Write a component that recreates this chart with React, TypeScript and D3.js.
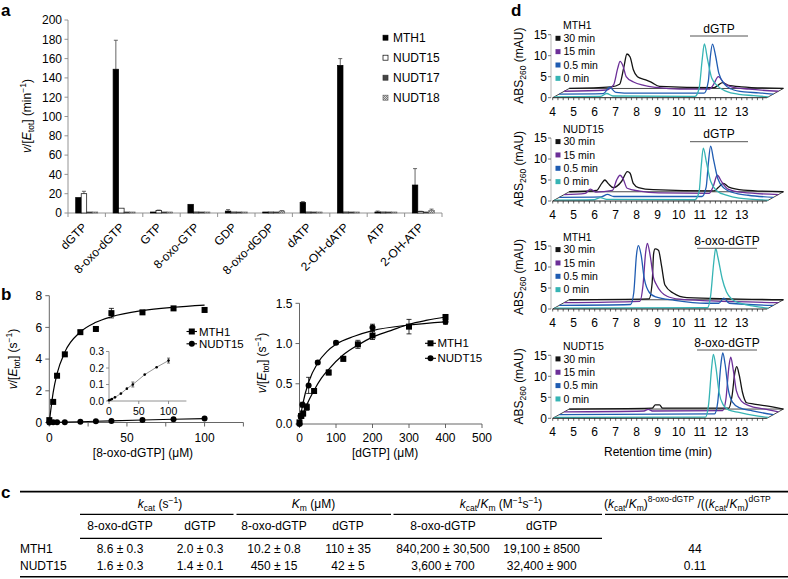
import React from "react";
import * as d3 from "d3";

const FONT = "'Liberation Sans', Arial, Helvetica, sans-serif";

// ---------------- Panel a data ----------------
const substrates = ["dGTP", "8-oxo-dGTP", "GTP", "8-oxo-GTP", "GDP", "8-oxo-dGDP", "dATP", "2-OH-dATP", "ATP", "2-OH-ATP"];
const enzymes = ["MTH1", "NUDT15", "NUDT17", "NUDT18"];
const rateMTH1 = [16, 149, 0.3, 9, 2, 0.3, 11, 153, 0.5, 29];
const errMTH1 = [0, 30, 0, 0, 1.5, 0, 0.8, 7, 1.5, 17];
const rateNUDT15 = [20, 5, 2.5, 0.3, 0.3, 0.3, 0.3, 0.5, 0.3, 1.5];
const errNUDT15 = [2.5, 0, 0.5, 0, 0, 0, 0, 0, 0, 0.3];
const rateNUDT17 = [0.3, 0.5, 0.3, 0.3, 0.7, 0.3, 0.3, 0.3, 0.3, 0.3];
const errNUDT17 = [0, 0, 0, 0, 0, 0, 0, 0, 0, 0];
const rateNUDT18 = [0.3, 0.5, 0.3, 0.7, 0.3, 2, 0.3, 0.3, 0.3, 2.5];
const errNUDT18 = [0, 0, 0, 0, 0, 0.5, 0, 0, 0, 1.5];
const aTicks = [0, 20, 40, 60, 80, 100, 120, 140, 160, 180, 200];

// ---------------- Panel b data ----------------
const oxoConc = [0, 2.5, 5, 10, 20, 30, 40, 60, 80, 100];
const mth1Oxo = [0.15, 1.3, 2.95, 4.3, 5.7, 5.9, 6.9, 6.95, 7.2, 7.1];
const mth1OxoErr = [0, 0.05, 0.1, 0.1, 0.1, 0.1, 0.3, 0.1, 0.1, 0.1];
const nudt15Oxo = [0.005, 0.008, 0.012, 0.022, 0.045, 0.075, 0.1, 0.16, 0.205, 0.245];
const nudt15OxoErr = [0, 0, 0, 0, 0, 0, 0.015, 0, 0, 0.015];
const mth1OxoFitX = [0, 2.5, 5, 10, 20, 30, 40, 60, 80, 100];
const mth1OxoFitY = [0, 1.9, 3.08, 4.44, 5.71, 6.32, 6.67, 7.06, 7.27, 7.41];
const bLeftXTicks = [0, 25, 50, 75, 100, 125];
const bLeftXLabels = [0, 50, 100];
const bLeftYTicks = [0, 2, 4, 6, 8];
const insetYTicks = [0, 0.1, 0.2, 0.3];
const insetXTicks = [0, 50, 100];

const mth1DgtpConc = [0, 5, 10, 20, 40, 80, 120, 160, 200, 300, 400];
const mth1Dgtp = [0.02, 0.1, 0.13, 0.21, 0.41, 0.64, 0.81, 0.99, 1.1, 1.21, 1.33];
const mth1DgtpErr = [0, 0.02, 0.03, 0.04, 0.03, 0.03, 0.03, 0.05, 0.05, 0.09, 0.03];
const nudt15DgtpConc = [0, 3, 8, 25, 50, 100, 200, 400];
const nudt15Dgtp = [0, 0.1, 0.24, 0.48, 0.765, 1.01, 1.2, 1.27];
const nudt15DgtpErr = [0, 0.03, 0.03, 0.1, 0.02, 0.02, 0.04, 0.03];
const mth1DgtpFitX = [0, 10, 20, 40, 60, 80, 120, 160, 200, 250, 300, 350, 400];
const mth1DgtpFitY = [0, 0.13, 0.24, 0.42, 0.57, 0.68, 0.86, 0.98, 1.08, 1.16, 1.24, 1.29, 1.33];
const nudt15DgtpFitX = [0, 5, 10, 25, 50, 75, 100, 150, 200, 300, 400];
const nudt15DgtpFitY = [0, 0.15, 0.27, 0.52, 0.76, 0.9, 0.99, 1.09, 1.16, 1.23, 1.27];
const bRightXTicks = [0, 100, 200, 300, 400, 500];
const bRightYTicks = [0, 0.5, 1.0, 1.5];

// ---------------- Panel c data ----------------
const tableEnzymes = ["MTH1", "NUDT15"];
const kcatOxo = ["8.6 ± 0.3", "1.6 ± 0.3"];
const kcatDgtp = ["2.0 ± 0.3", "1.4 ± 0.1"];
const kmOxo = ["10.2 ± 0.8", "450 ± 15"];
const kmDgtp = ["110 ± 35", "42 ± 5"];
const effOxo = ["840,200 ± 30,500", "3,600 ± 700"];
const effDgtp = ["19,100 ± 8500", "32,400 ± 900"];
const ratioCol = ["44", "0.11"];

// ---------------- Panel d data ----------------
const timePoints = ["0 min", "0.5 min", "15 min", "30 min"]; // front to back
const dTimeTicks = [4, 5, 6, 7, 8, 9, 10, 11, 12, 13];
const dYTicks = [0, 5, 10, 15];

const mth1Dgtp_0 = [[4, 0], [6.2, 0.1], [6.5, 0.8], [6.8, 0.2], [10.7, 0.1], [10.9, 2], [11.05, 9], [11.15, 12.6], [11.3, 9], [11.5, 4.5], [11.8, 2.5], [12.2, 1.3], [12.8, 0.6], [13.5, 0.3], [14.2, 0]];
const mth1Dgtp_05 = [[4, 0], [6.1, 0.1], [6.4, 1.6], [6.7, 0.4], [7.5, 0.2], [10.9, 0.2], [11.1, 3], [11.2, 9], [11.3, 11.9], [11.45, 9], [11.6, 5], [11.9, 2.2], [12.2, 1.2], [12.8, 0.5], [13.5, 0.3], [14.2, 0]];
const mth1Dgtp_15 = [[4, 0], [6.0, 0.3], [6.35, 1.5], [6.55, 5.5], [6.66, 7.1], [6.8, 6], [6.95, 3.5], [7.3, 2.2], [7.8, 1.4], [8.4, 0.9], [9.5, 0.5], [10.9, 0.5], [11.1, 1.5], [11.34, 3.5], [11.6, 2], [12.0, 1], [12.8, 0.5], [14.2, 0]];
const mth1Dgtp_30 = [[4, 0], [6.0, 0.4], [6.4, 1], [6.6, 5], [6.75, 8.2], [6.9, 7.5], [7.05, 4.5], [7.25, 2.8], [7.6, 2.1], [7.9, 1.5], [8.3, 0.5], [10.9, 0.2], [11.1, 0.8], [11.3, 1.4], [11.55, 0.8], [12.2, 0.4], [14.2, 0]];

const nudt15Dgtp_0 = [[4, 0], [5.9, 0.1], [6.2, 0.6], [6.5, 0.2], [10.7, 0.1], [10.9, 2], [11.0, 8], [11.1, 12.4], [11.25, 9], [11.45, 4.5], [11.75, 2.2], [12.2, 1.2], [12.8, 0.5], [14.2, 0]];
const nudt15Dgtp_05 = [[4, 0], [6.0, 0.1], [6.3, 0.7], [6.6, 0.2], [10.8, 0.2], [11.0, 2.5], [11.1, 8], [11.21, 12.2], [11.35, 9], [11.55, 4.5], [11.85, 2.2], [12.3, 1.1], [13, 0.5], [14.2, 0]];
const nudt15Dgtp_15 = [[4, 0], [5.0, 0.3], [5.25, 1.3], [5.5, 0.6], [6.3, 1], [6.5, 3.5], [6.66, 4.6], [6.8, 3.8], [7.0, 1.5], [7.6, 0.8], [8.5, 0.4], [10.9, 0.3], [11.1, 2], [11.29, 4.6], [11.5, 3], [11.8, 1.3], [12.5, 0.5], [14.2, 0]];
const nudt15Dgtp_30 = [[4, 0], [5.3, 0.3], [5.55, 2], [5.7, 2.8], [5.85, 2], [6.1, 1], [6.5, 2.5], [6.77, 4.8], [6.9, 4.4], [7.05, 2], [7.3, 1], [8.0, 0.5], [10.9, 0.2], [11.1, 1], [11.34, 2], [11.6, 1.1], [12.3, 0.4], [14.2, 0]];

const mth1Oxo_0 = [[4, 0], [11.3, 0.1], [11.45, 3], [11.6, 11], [11.69, 14.2], [11.8, 12], [12.0, 7], [12.2, 3.9], [12.5, 2], [12.85, 1.2], [13.5, 0.5], [14.2, 0]];
const mth1Oxo_05 = [[4, 0], [7.4, 0.2], [7.55, 3], [7.68, 12], [7.77, 14.2], [7.9, 12], [8.05, 6.4], [8.3, 3], [8.6, 2], [9.5, 1.2], [11.0, 0.5], [11.6, 0.5], [11.84, 1.7], [12.1, 0.5], [14.2, 0]];
const mth1Oxo_15 = [[4, 0], [7.6, 0.3], [7.75, 4], [7.88, 12], [7.96, 14.1], [8.1, 11], [8.25, 6], [8.4, 4.2], [8.9, 1.5], [9.5, 0.8], [11, 0.4], [14.2, 0]];
const mth1Oxo_30 = [[4, 0], [7.8, 0.2], [7.95, 4], [8.02, 11], [8.09, 12.1], [8.25, 11.8], [8.4, 8], [8.56, 3.5], [8.95, 1.6], [9.6, 0.5], [14.2, 0]];

const nudt15Oxo_0 = [[4, 0], [11.2, 0.1], [11.35, 3], [11.5, 12], [11.58, 15], [11.7, 12], [11.85, 6], [12.05, 3], [12.3, 1.8], [12.8, 1.2], [13.5, 0.5], [14.2, 0]];
const nudt15Oxo_05 = [[4, 0], [11.4, 0.2], [11.55, 3], [11.7, 12], [11.79, 14.7], [11.9, 12], [12.05, 6], [12.25, 3], [12.6, 1.6], [13.2, 0.9], [14.2, 0]];
const nudt15Oxo_15 = [[4, 0], [7.8, 0.2], [8.0, 0.6], [8.2, 0.2], [11.55, 0.3], [11.7, 3], [11.85, 11], [11.93, 13], [12.05, 10], [12.2, 5], [12.45, 2.5], [12.8, 1.5], [13.5, 0.7], [14.2, 0]];
const nudt15Oxo_30 = [[4, 0], [7.95, 0.2], [8.1, 1.0], [8.3, 1.0], [8.45, 0.2], [11.6, 0.2], [11.75, 3], [11.9, 9], [11.98, 10.1], [12.1, 8], [12.25, 4], [12.45, 1.5], [12.8, 1.2], [13.3, 0.8], [14.2, 0]];

const dSubpanels = [
  { enzyme: "MTH1", substrate: "dGTP", traces: [mth1Dgtp_0, mth1Dgtp_05, mth1Dgtp_15, mth1Dgtp_30] },
  { enzyme: "NUDT15", substrate: "dGTP", traces: [nudt15Dgtp_0, nudt15Dgtp_05, nudt15Dgtp_15, nudt15Dgtp_30] },
  { enzyme: "MTH1", substrate: "8-oxo-dGTP", traces: [mth1Oxo_0, mth1Oxo_05, mth1Oxo_15, mth1Oxo_30] },
  { enzyme: "NUDT15", substrate: "8-oxo-dGTP", traces: [nudt15Oxo_0, nudt15Oxo_05, nudt15Oxo_15, nudt15Oxo_30] },
];

// ---------------- layout / style ----------------
const dLayout = [
  { base: 97.7, subY: 32.5, lineY: 36, lineX: [690, 748] },
  { base: 201, subY: 137.5, lineY: 141.7, lineX: [690, 748] },
  { base: 309, subY: 244.5, lineY: 248.3, lineX: [697, 757] },
  { base: 418.3, subY: 346.5, lineY: 350, lineX: [697, 757] },
];
const dColors = ["#36b4b4", "#1f5cb2", "#6c2f98", "#141414"];
const dLevels = [0.3, 1.3, 2.3, 3.3];
const aColors = [
  { fill: "#000", stroke: "#000" },
  { fill: "#fff", stroke: "#000" },
  { fill: "#454545", stroke: "#333" },
  { fill: "url(#chk)", stroke: "#666" },
];

const VLabel = ({ x, y, unit }: { x: number; y: number; unit: string }) => (
  <text transform={`translate(${x},${y}) rotate(-90)`} textAnchor="middle" fontSize={12}>
    <tspan fontStyle="italic">v</tspan>/[<tspan fontStyle="italic">E</tspan>
    <tspan fontSize={8.5} dy={3}>tot</tspan>
    <tspan dy={-3}>] ({unit}</tspan>
    <tspan fontSize={8.5} dy={-5}>−1</tspan>
    <tspan dy={5}>)</tspan>
  </text>
);

export default function App() {
  // ---------- panel a ----------
  const aX = d3.scaleBand<string>().domain(substrates).range([68, 442]);
  const aInner = d3.scaleBand<string>().domain(enzymes).range([0, aX.bandwidth()]).paddingOuter(1.4);
  const aY = d3.scaleLinear().domain([0, 200]).range([213, 20]);
  const aVals = [rateMTH1, rateNUDT15, rateNUDT17, rateNUDT18];
  const aErrs = [errMTH1, errNUDT15, errNUDT17, errNUDT18];

  // ---------- panel b ----------
  const blX = d3.scaleLinear().domain([0, 125]).range([49.3, 243.4]);
  const blY = d3.scaleLinear().domain([0, 8]).range([422.5, 295.7]);
  const iX = d3.scaleLinear().domain([0, 130]).range([109, 186.4]);
  const iY = d3.scaleLinear().domain([0, 0.3]).range([401, 351.5]);
  const brX = d3.scaleLinear().domain([0, 500]).range([299.5, 482]);
  const brY = d3.scaleLinear().domain([0, 1.5]).range([424, 303.3]);

  const lineXY = (sx: any, sy: any, curve: any) =>
    d3.line<number[]>().x((d) => sx(d[0])).y((d) => sy(d[1])).curve(curve);
  const zip = (a: number[], b: number[]) => a.map((v, i) => [v, b[i]]);

  const errBar = (cx: number, v: number, e: number, sy: any, half: number) => (
    <g stroke="#000" strokeWidth={0.8}>
      <line x1={cx} x2={cx} y1={sy(v - e)} y2={sy(v + e)} />
      <line x1={cx - half} x2={cx + half} y1={sy(v + e)} y2={sy(v + e)} />
      <line x1={cx - half} x2={cx + half} y1={sy(v - e)} y2={sy(v - e)} />
    </g>
  );

  const squares = (xs: number[], ys: number[], errs: number[], sx: any, sy: any, size: number, key: string) =>
    xs.map((c, i) => {
      const cx = sx(c), cy = sy(ys[i]);
      return (
        <g key={key + i}>
          {errs[i] > 0 && errBar(cx, ys[i], errs[i], sy, 2.5)}
          <rect x={cx - size / 2} y={cy - size / 2} width={size} height={size} fill="#000" />
        </g>
      );
    });
  const circles = (xs: number[], ys: number[], errs: number[], sx: any, sy: any, r: number, key: string) =>
    xs.map((c, i) => {
      const cx = sx(c), cy = sy(ys[i]);
      return (
        <g key={key + i}>
          {errs[i] > 0 && errBar(cx, ys[i], errs[i], sy, 2.5)}
          <circle cx={cx} cy={cy} r={r} fill="#000" />
        </g>
      );
    });

  // ---------- panel d ----------
  const dX = d3.scaleLinear().domain([4, 14.2]).range([552.7, 766.9]);
  const dK = 4.2;
  const minorTicks = d3.range(4, 14.01, 0.25);

  // ---------- panel c ----------
  const colCenters = [120, 200, 274, 348, 443, 541.7, 695];
  const tableCols = [kcatOxo, kcatDgtp, kmOxo, kmDgtp, effOxo, effDgtp, ratioCol];
  const subHeads = ["8-oxo-dGTP", "dGTP", "8-oxo-dGTP", "dGTP", "8-oxo-dGTP", "dGTP"];

  return (
    <svg width={788} height={579} style={{ position: "absolute", left: 0, top: 0, background: "#fff" }} fontFamily={FONT}>
      <defs>
        <pattern id="chk" width={2} height={2} patternUnits="userSpaceOnUse">
          <rect width={2} height={2} fill="#d8d8d8" />
          <rect width={1} height={1} fill="#7a7a7a" />
          <rect x={1} y={1} width={1} height={1} fill="#7a7a7a" />
        </pattern>
      </defs>
      <rect width={788} height={579} fill="#fff" />

      {/* ================= Panel a ================= */}
      <text x={1} y={16} fontSize={17} fontWeight="bold">a</text>
      <g>
        <line x1={68} x2={68} y1={aY(200)} y2={aY(0)} stroke="#888" strokeWidth={0.9} />
        {aTicks.map((t) => (
          <g key={"at" + t}>
            <line x1={64.5} x2={68} y1={aY(t)} y2={aY(t)} stroke="#888" strokeWidth={0.9} />
            <text x={62} y={aY(t) + 4.3} fontSize={12} textAnchor="end">{t}</text>
          </g>
        ))}
        <line x1={68} x2={442} y1={aY(0)} y2={aY(0)} stroke="#888" strokeWidth={0.9} />
        {d3.range(0, substrates.length + 1).map((i) => {
          const x = 68 + i * aX.step();
          return <line key={"ab" + i} x1={x} x2={x} y1={aY(0)} y2={aY(0) + 4} stroke="#888" strokeWidth={0.9} />;
        })}
        {substrates.map((s, si) =>
          enzymes.map((e, ei) => {
            const v = aVals[ei][si];
            const err = aErrs[ei][si];
            const x = (aX(s) as number) + (aInner(e) as number);
            const w = aInner.bandwidth();
            const h = Math.max(aY(0) - aY(v), 1);
            const cx = x + w / 2;
            return (
              <g key={s + e}>
                {err > 0 && (
                  <g stroke="#555" strokeWidth={0.9}>
                    <line x1={cx} x2={cx} y1={aY(v)} y2={aY(v + err)} />
                    <line x1={cx - 2} x2={cx + 2} y1={aY(v + err)} y2={aY(v + err)} />
                  </g>
                )}
                <rect x={x} y={aY(0) - h} width={w} height={h} fill={aColors[ei].fill} stroke={aColors[ei].stroke} strokeWidth={0.7} />
              </g>
            );
          })
        )}
        {substrates.map((s) => {
          const cx = (aX(s) as number) + aX.bandwidth() / 2;
          return (
            <text key={"al" + s} transform={`translate(${cx + 1},${228}) rotate(-45)`} textAnchor="end" fontSize={12}>
              {s}
            </text>
          );
        })}
        <VLabel x={31} y={116} unit="min" />
        {enzymes.map((e, i) => (
          <g key={"leg" + e}>
            <rect x={383} y={35.2 + 20 * i} width={5} height={5} fill={aColors[i].fill} stroke={aColors[i].stroke} strokeWidth={0.7} />
            <text x={393} y={42 + 20 * i} fontSize={12}>{e}</text>
          </g>
        ))}
      </g>

      {/* ================= Panel b ================= */}
      <text x={1} y={300} fontSize={17} fontWeight="bold">b</text>
      {/* left plot */}
      <g>
        <line x1={blX(0)} x2={blX(0)} y1={blY(8)} y2={blY(0)} stroke="#555" strokeWidth={0.9} />
        <line x1={blX(0)} x2={blX(125)} y1={blY(0)} y2={blY(0)} stroke="#555" strokeWidth={0.9} />
        {bLeftYTicks.map((t) => (
          <g key={"bly" + t}>
            <line x1={blX(0) - 4} x2={blX(0)} y1={blY(t)} y2={blY(t)} stroke="#555" strokeWidth={0.9} />
            <text x={blX(0) - 7} y={blY(t) + 4.3} fontSize={12} textAnchor="end">{t}</text>
          </g>
        ))}
        {bLeftXTicks.map((t) => (
          <line key={"blx" + t} x1={blX(t)} x2={blX(t)} y1={blY(0)} y2={blY(0) + 4} stroke="#555" strokeWidth={0.9} />
        ))}
        {bLeftXLabels.map((t) => (
          <text key={"blxl" + t} x={blX(t)} y={442} fontSize={12} textAnchor="middle">{t}</text>
        ))}
        <text x={143} y={457} fontSize={12} textAnchor="middle">[8-oxo-dGTP] (μM)</text>
        <VLabel x={17} y={359} unit="s" />

        {/* inset */}
        <line x1={iX(0)} x2={iX(0)} y1={iY(0.3)} y2={iY(0)} stroke="#777" strokeWidth={0.8} />
        <line x1={iX(0)} x2={iX(130)} y1={iY(0)} y2={iY(0)} stroke="#777" strokeWidth={0.8} />
        {insetYTicks.map((t) => (
          <g key={"iy" + t}>
            <line x1={iX(0) - 3} x2={iX(0)} y1={iY(t)} y2={iY(t)} stroke="#777" strokeWidth={0.8} />
            <text x={iX(0) - 5} y={iY(t) + 3.7} fontSize={10.5} textAnchor="end">{t.toFixed(1)}</text>
          </g>
        ))}
        {insetXTicks.map((t) => (
          <g key={"ix" + t}>
            <line x1={iX(t)} x2={iX(t)} y1={iY(0)} y2={iY(0) + 3} stroke="#777" strokeWidth={0.8} />
            <text x={iX(t)} y={414.5} fontSize={10.5} textAnchor="middle">{t}</text>
          </g>
        ))}
        <path d={lineXY(iX, iY, d3.curveLinear)(zip(oxoConc, nudt15Oxo)) as string} fill="none" stroke="#888" strokeWidth={0.9} />
        {oxoConc.map((c, i) => (
          <g key={"ip" + i}>
            {nudt15OxoErr[i] > 0 && (
              <g stroke="#333" strokeWidth={0.7}>
                <line x1={iX(c)} x2={iX(c)} y1={iY(nudt15Oxo[i] - nudt15OxoErr[i])} y2={iY(nudt15Oxo[i] + nudt15OxoErr[i])} />
                <line x1={iX(c) - 1.5} x2={iX(c) + 1.5} y1={iY(nudt15Oxo[i] + nudt15OxoErr[i])} y2={iY(nudt15Oxo[i] + nudt15OxoErr[i])} />
                <line x1={iX(c) - 1.5} x2={iX(c) + 1.5} y1={iY(nudt15Oxo[i] - nudt15OxoErr[i])} y2={iY(nudt15Oxo[i] - nudt15OxoErr[i])} />
              </g>
            )}
            <circle cx={iX(c)} cy={iY(nudt15Oxo[i])} r={1.3} fill="#000" />
          </g>
        ))}

        {/* main data */}
        <path d={lineXY(blX, blY, d3.curveMonotoneX)(zip(mth1OxoFitX, mth1OxoFitY)) as string} fill="none" stroke="#000" strokeWidth={1.2} />
        <path d={lineXY(blX, blY, d3.curveLinear)(zip(oxoConc, nudt15Oxo)) as string} fill="none" stroke="#000" strokeWidth={1.1} />
        {squares(oxoConc, mth1Oxo, mth1OxoErr, blX, blY, 6, "msq")}
        {circles(oxoConc, nudt15Oxo, nudt15Oxo.map(() => 0), blX, blY, 3, "nci")}

        {/* legend */}
        <line x1={186.5} x2={197} y1={331.5} y2={331.5} stroke="#000" strokeWidth={1.1} />
        <rect x={188.8} y={328.5} width={6} height={6} fill="#000" />
        <text x={199} y={335.5} fontSize={11.5}>MTH1</text>
        <line x1={186.5} x2={197} y1={343.8} y2={343.8} stroke="#000" strokeWidth={1.1} />
        <circle cx={191.8} cy={343.8} r={3} fill="#000" />
        <text x={199} y={347.8} fontSize={11.5}>NUDT15</text>
      </g>

      {/* right plot */}
      <g>
        <line x1={brX(0)} x2={brX(0)} y1={brY(1.5)} y2={brY(0)} stroke="#555" strokeWidth={0.9} />
        <line x1={brX(0)} x2={brX(500)} y1={brY(0)} y2={brY(0)} stroke="#555" strokeWidth={0.9} />
        {bRightYTicks.map((t) => (
          <g key={"bry" + t}>
            <line x1={brX(0) - 4} x2={brX(0)} y1={brY(t)} y2={brY(t)} stroke="#555" strokeWidth={0.9} />
            <text x={brX(0) - 7} y={brY(t) + 4.3} fontSize={12} textAnchor="end">{t.toFixed(1)}</text>
          </g>
        ))}
        {bRightXTicks.map((t) => (
          <g key={"brx" + t}>
            <line x1={brX(t)} x2={brX(t)} y1={brY(0)} y2={brY(0) + 4} stroke="#555" strokeWidth={0.9} />
            <text x={brX(t)} y={442} fontSize={12} textAnchor="middle">{t}</text>
          </g>
        ))}
        <text x={385} y={457} fontSize={12} textAnchor="middle">[dGTP] (μM)</text>
        <VLabel x={266} y={363} unit="s" />

        <path d={lineXY(brX, brY, d3.curveMonotoneX)(zip(mth1DgtpFitX, mth1DgtpFitY)) as string} fill="none" stroke="#000" strokeWidth={1.2} />
        <path d={lineXY(brX, brY, d3.curveMonotoneX)(zip(nudt15DgtpFitX, nudt15DgtpFitY)) as string} fill="none" stroke="#000" strokeWidth={1.2} />
        {squares(mth1DgtpConc, mth1Dgtp, mth1DgtpErr, brX, brY, 6, "rsq")}
        {circles(nudt15DgtpConc, nudt15Dgtp, nudt15DgtpErr, brX, brY, 3, "rci")}

        <line x1={425} x2={436} y1={343.3} y2={343.3} stroke="#000" strokeWidth={1.1} />
        <rect x={427.5} y={340.3} width={6} height={6} fill="#000" />
        <text x={437.5} y={347.4} fontSize={11.5}>MTH1</text>
        <line x1={425} x2={436} y1={358.3} y2={358.3} stroke="#000" strokeWidth={1.1} />
        <circle cx={430.5} cy={358.3} r={3} fill="#000" />
        <text x={437.5} y={362.4} fontSize={11.5}>NUDT15</text>
      </g>

      {/* ================= Panel c ================= */}
      <text x={1} y={498} fontSize={17} fontWeight="bold">c</text>
      <line x1={20} x2={788} y1={491.7} y2={491.7} stroke="#000" strokeWidth={1.8} />
      <g fontSize={12}>
        <text x={160} y={507.5} textAnchor="middle">
          <tspan fontStyle="italic">k</tspan>
          <tspan fontSize={8.5} dy={3}>cat</tspan>
          <tspan dy={-3}> (s</tspan>
          <tspan fontSize={8.5} dy={-5}>−1</tspan>
          <tspan dy={5}>)</tspan>
        </text>
        <text x={313.5} y={507.5} textAnchor="middle">
          <tspan fontStyle="italic">K</tspan>
          <tspan fontSize={8.5} dy={3}>m</tspan>
          <tspan dy={-3}> (μM)</tspan>
        </text>
        <text x={501} y={507.5} textAnchor="middle">
          <tspan fontStyle="italic">k</tspan>
          <tspan fontSize={8.5} dy={3}>cat</tspan>
          <tspan dy={-3}>/</tspan>
          <tspan fontStyle="italic">K</tspan>
          <tspan fontSize={8.5} dy={3}>m</tspan>
          <tspan dy={-3}> (M</tspan>
          <tspan fontSize={8.5} dy={-5}>−1</tspan>
          <tspan dy={5}>s</tspan>
          <tspan fontSize={8.5} dy={-5}>−1</tspan>
          <tspan dy={5}>)</tspan>
        </text>
        <text x={604} y={507.5}>
          (<tspan fontStyle="italic">k</tspan>
          <tspan fontSize={8.5} dy={3}>cat</tspan>
          <tspan dy={-3}>/</tspan>
          <tspan fontStyle="italic">K</tspan>
          <tspan fontSize={8.5} dy={3}>m</tspan>
          <tspan dy={-3}>)</tspan>
          <tspan fontSize={8.5} dy={-6}>8-oxo-dGTP</tspan>
          <tspan dy={6}> /((</tspan>
          <tspan fontStyle="italic">k</tspan>
          <tspan fontSize={8.5} dy={3}>cat</tspan>
          <tspan dy={-3}>/</tspan>
          <tspan fontStyle="italic">K</tspan>
          <tspan fontSize={8.5} dy={3}>m</tspan>
          <tspan dy={-3}>)</tspan>
          <tspan fontSize={8.5} dy={-6}>dGTP</tspan>
        </text>
        {[[80, 233.5], [236.5, 391], [393.5, 602], [605, 788]].map(([a, b], i) => (
          <line key={"gl" + i} x1={a} x2={b} y1={514.3} y2={514.3} stroke="#000" strokeWidth={1.2} />
        ))}
        {subHeads.map((h, i) => (
          <text key={"sh" + i} x={colCenters[i]} y={530.3} textAnchor="middle">{h}</text>
        ))}
        <line x1={80} x2={602} y1={538.3} y2={538.3} stroke="#000" strokeWidth={1.2} />
        {tableEnzymes.map((e, r) => (
          <g key={"row" + e}>
            <text x={20} y={552.6 + r * 17.7}>{e}</text>
            {tableCols.map((col, c) => (
              <text key={"cell" + r + c} x={colCenters[c]} y={552.6 + r * 17.7} textAnchor="middle">{col[r]}</text>
            ))}
          </g>
        ))}
      </g>
      <line x1={20} x2={788} y1={576.7} y2={576.7} stroke="#000" strokeWidth={1.6} />

      {/* ================= Panel d ================= */}
      <text x={511} y={16} fontSize={17} fontWeight="bold">d</text>
      {dSubpanels.map((sp, si) => {
        const L = dLayout[si];
        const base = L.base;
        const backDx = 5 * dLevels[3];
        const backDy = 2.8 * dLevels[3];
        return (
          <g key={"dsp" + si}>
            {/* y axis */}
            <line x1={551} x2={551} y1={base} y2={base - 15 * dK} stroke="#999" strokeWidth={0.7} />
            {dYTicks.map((t) => (
              <g key={"dy" + t}>
                <line x1={548} x2={551} y1={base - t * dK} y2={base - t * dK} stroke="#555" strokeWidth={0.8} />
                <text x={547} y={base - t * dK + 4.2} fontSize={12} textAnchor="end">{t}</text>
              </g>
            ))}
            <text transform={`translate(523,${base - 32}) rotate(-90)`} textAnchor="middle" fontSize={12}>
              ABS<tspan fontSize={8.5} dy={3}>260</tspan>
              <tspan dy={-3}> (mAU)</tspan>
            </text>
            {/* floor */}
            <g stroke="#333" strokeWidth={0.9} fill="none">
              <line x1={dX(4)} y1={base} x2={dX(4) + backDx} y2={base - backDy} />
              <line x1={dX(4) + backDx} y1={base - backDy} x2={dX(14.2) + backDx} y2={base - backDy} />
              <line x1={dX(14.2)} y1={base} x2={dX(14.2) + backDx} y2={base - backDy} />
            </g>
            {/* traces back to front */}
            {[3, 2, 1, 0].map((k) => {
              const dx = 5 * dLevels[k];
              const dy = 2.8 * dLevels[k];
              const gen = d3
                .line<number[]>()
                .x((p) => dX(p[0]) + dx)
                .y((p) => base - dy - p[1] * dK)
                .curve(d3.curveMonotoneX);
              return <path key={"tr" + k} d={gen(sp.traces[k] as number[][]) as string} fill="none" stroke={dColors[k]} strokeWidth={1.3} />;
            })}
            {/* x axis */}
            <line x1={dX(4)} x2={dX(14.2)} y1={base} y2={base} stroke="#222" strokeWidth={1} />
            {minorTicks.map((t) => (
              <line key={"mt" + t} x1={dX(t)} x2={dX(t)} y1={base} y2={base + 2.5} stroke="#222" strokeWidth={0.7} />
            ))}
            {dTimeTicks.map((t) => (
              <text key={"dt" + t} x={dX(t)} y={base + 18} fontSize={12} textAnchor="middle">{t}</text>
            ))}
            {/* substrate label */}
            <text x={(L.lineX[0] + L.lineX[1]) / 2} y={L.subY} fontSize={12} textAnchor="middle">{sp.substrate}</text>
            <line x1={L.lineX[0]} x2={L.lineX[1]} y1={L.lineY} y2={L.lineY} stroke="#555" strokeWidth={1} />
            {/* legend */}
            <text x={563} y={base - 68.5} fontSize={10.5}>{sp.enzyme}</text>
            {[3, 2, 1, 0].map((k, j) => (
              <g key={"dl" + k}>
                <rect x={555.5} y={base - 59.4 + j * 13.35 - 2.5} width={5} height={5} fill={dColors[k]} />
                <text x={563.5} y={base - 59.4 + j * 13.35 + 3.8} fontSize={10.5}>{timePoints[k]}</text>
              </g>
            ))}
          </g>
        );
      })}
      <text x={658} y={456} fontSize={12} textAnchor="middle">Retention time (min)</text>
    </svg>
  );
}
